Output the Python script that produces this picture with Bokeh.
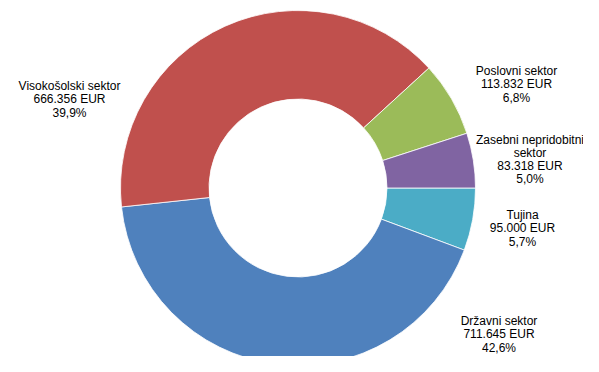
import numpy as np
from bokeh.plotting import figure
from bokeh.models import Range1d, ColumnDataSource
from bokeh.core.properties import value
from bokeh.embed import file_html
from bokeh.resources import INLINE

# Data (clockwise order starting at 3 o'clock)
sectors = ["Tujina", "Državni sektor", "Visokošolski sektor", "Poslovni sektor",
           "Zasebni nepridobitni\nsektor"]
amounts = [95000, 711645, 666356, 113832, 83318]
amount_labels = ["95.000 EUR", "711.645 EUR", "666.356 EUR", "113.832 EUR", "83.318 EUR"]
percent_labels = ["5,7%", "42,6%", "39,9%", "6,8%", "5,0%"]
colors = ["#4BACC6", "#4F81BD", "#C0504D", "#9BBB59", "#8064A2"]

# label anchor positions (layout, page pixel space, y up)
label_x = [522, 498.5, 69, 516, 529.5]
label_y = [372 - 228, 372 - 334, 372 - 99, 372 - 84, 372 - 159]

cx, cy = 297.5, 372 - 187.5
r_out, r_in = 177.5, 89

vals = np.array(amounts, dtype=float)
frac = vals / vals.sum()
ends_cum = np.cumsum(frac) * 2 * np.pi
starts_cum = np.concatenate([[0], ends_cum[:-1]])
# clockwise from angle 0
start_angle = -starts_cum
end_angle = -ends_cum

src = ColumnDataSource(dict(start=start_angle, end=end_angle, color=colors,
                            x=[cx] * 5, y=[cy] * 5))

p = figure(width=583, height=356, output_backend="svg", toolbar_location=None,
           x_range=Range1d(0, 583), y_range=Range1d(16, 372), min_border=0)
p.axis.visible = False
p.grid.visible = False
p.outline_line_color = None
p.background_fill_color = "white"
p.border_fill_color = "white"

p.annular_wedge(x="x", y="y", inner_radius=r_in, outer_radius=r_out,
                start_angle="end", end_angle="start", direction="anticlock",
                fill_color="color", line_color="white", line_width=0.8, source=src)

texts = [f"{s}\n{a}\n{pc}" for s, a, pc in zip(sectors, amount_labels, percent_labels)]
lsrc = ColumnDataSource(dict(x=label_x, y=label_y, t=texts))
p.text(x="x", y="y", text="t", source=lsrc, text_align="center", text_baseline="middle",
       text_font=value("Liberation Sans"), text_font_size="12px", text_color="#000000",
       text_line_height=0.95)

open("out.html", "w").write(file_html(p, INLINE))
